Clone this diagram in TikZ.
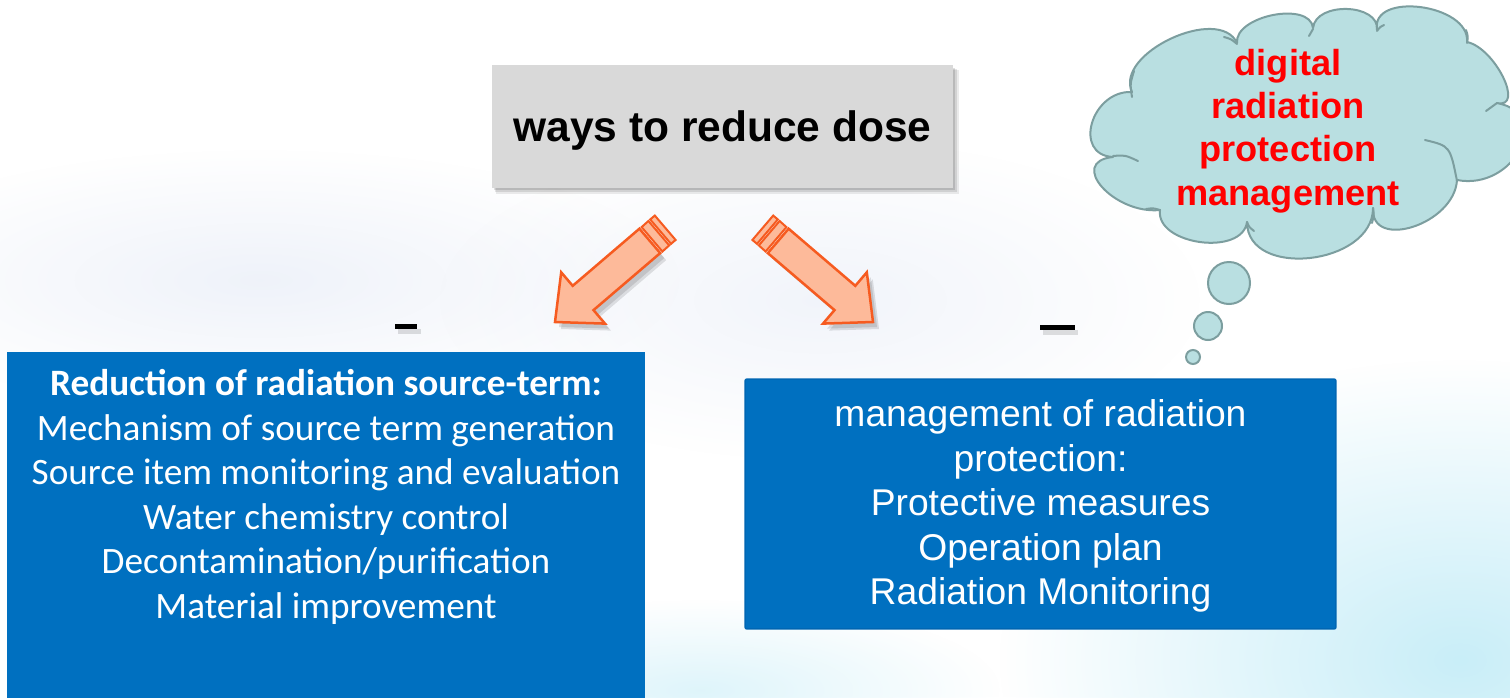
\documentclass[tikz,border=0pt]{standalone}
\usepackage{fontspec}
\setmainfont{Liberation Sans}
\newfontfamily\calibrifont{Carlito}
\usetikzlibrary{fadings}

\definecolor{boxblue}{HTML}{0070C0}
\definecolor{boxedge}{HTML}{0066B3}
\definecolor{dosegray}{HTML}{D9D9D9}
\definecolor{arrowfill}{HTML}{FDBA9A}
\definecolor{arrowline}{HTML}{F65B20}
\definecolor{cloudfill}{HTML}{B9DFE1}
\definecolor{cloudline}{HTML}{7C9E9F}
\definecolor{tintcyan}{HTML}{C9EEF8}
\definecolor{tintblue}{HTML}{E4EAF6}

\tikzfading[name=softspot, inner color=transparent!0, outer color=transparent!100]

\tikzset{
  dosebox/.style={rectangle, fill=dosegray, minimum width=9.22cm, minimum height=2.46cm, inner sep=0pt},
  dosetext/.style={inner sep=0pt, font=\bfseries\fontsize{24.2pt}{28pt}\selectfont},
  bluebox/.style={rectangle, fill=boxblue, inner sep=0pt},
  srctext/.style={align=center, text=white, inner sep=0pt,
    font=\calibrifont\fontsize{21.2pt}{25.3pt}\selectfont},
  mgmtstyle/.style={bluebox, draw=boxedge, line width=0.03cm, rounded corners=0.04cm,
    minimum width=11.82cm, minimum height=5cm},
  mgmttext/.style={align=center, text=white, inner sep=0pt,
    font=\fontsize{21.2pt}{25.3pt}\selectfont},
  cloudoutline/.style={draw=cloudline, fill=cloudfill, line width=0.04cm, line join=round},
  cloudinner/.style={draw=cloudline, line width=0.04cm, line cap=round},
  thoughttext/.style={align=center, text=red, inner sep=0pt,
    font=\bfseries\fontsize{20.6pt}{24.7pt}\selectfont},
  bubble/.style={circle, draw=cloudline, fill=cloudfill, line width=0.04cm, inner sep=0pt},
  tinymark/.style={rectangle, fill=black, inner sep=0pt, minimum height=0.1cm},
  arrowshape/.style={fill=arrowfill, draw=arrowline, line width=0.05cm, line join=miter},
  stripeshape/.style={arrowshape, line width=0.04cm},
  arrowshadow/.style={fill=black, opacity=0.11}
}

\begin{document}
\begin{tikzpicture}[x=0.02cm, y=-0.02cm]
\useasboundingbox (0,0) rectangle (1510,697);
\begin{scope}
\clip (0,0) rectangle (1510,697);
\fill[white] (0,0) rectangle (1510,697);

% faint background tint
\fill[tintblue, path fading=softspot, opacity=0.6] (260,280) ellipse (420 and 130);
\fill[tintblue, path fading=softspot, opacity=0.5] (820,300) ellipse (380 and 160);
\fill[tintcyan, path fading=softspot] (1460,660) ellipse (460 and 300);
\fill[tintcyan, path fading=softspot, opacity=0.6] (700,690) ellipse (300 and 90);

% title box with its shadow
\fill[black, opacity=0.08] (496,70) rectangle (959,194);
\fill[black, opacity=0.10] (495,69) rectangle (957,192);
\fill[black, opacity=0.12] (494,68) rectangle (955,190);
\node[dosebox] (dose) at (722.5,126.5) {};
\node[dosetext, anchor=base] (dosewords) at (722.5,141) {ways to reduce dose};

% left block arrow: soft shadow, body, tail stripes
\foreach \dx/\dy in {6/7, 4/5} {
  \fill[arrowshadow, shift={(\dx,\dy)}] (555,322) -- (561.2,272.3) -- (572.7,285.8) -- (639.4,228.7)
    -- (660.2,253.1) -- (593.5,310.1) -- (605.0,323.6) -- cycle;
}
\filldraw[arrowshape] (555,322) -- (561.2,272.3) -- (572.7,285.8) -- (639.4,228.7)
  -- (660.2,253.1) -- (593.5,310.1) -- (605.0,323.6) -- cycle;
\filldraw[stripeshape] (662.4,251.5) -- (641.6,227.1) -- (648.4,221.0) -- (669.2,245.4) -- cycle;
\filldraw[stripeshape] (671.0,243.85) -- (650.2,219.45) -- (654.8,215.55) -- (675.6,239.95) -- cycle;

% right block arrow: soft shadow, body, tail stripes
\foreach \dx/\dy in {6/7, 4/5} {
  \fill[arrowshadow, shift={(\dx,\dy)}] (873,322) -- (866.8,272.3) -- (855.3,285.8) -- (788.6,228.7)
    -- (767.8,253.1) -- (834.5,310.1) -- (823.0,323.6) -- cycle;
}
\filldraw[arrowshape] (873,322) -- (866.8,272.3) -- (855.3,285.8) -- (788.6,228.7)
  -- (767.8,253.1) -- (834.5,310.1) -- (823.0,323.6) -- cycle;
\filldraw[stripeshape] (765.6,251.5) -- (786.4,227.1) -- (779.6,221.0) -- (758.8,245.4) -- cycle;
\filldraw[stripeshape] (757.0,243.85) -- (777.8,219.45) -- (773.2,215.55) -- (752.4,239.95) -- cycle;

% small labels beneath the arrows
\fill[black, opacity=0.12] (398,329) rectangle (421,334);
\node[tinymark, minimum width=0.44cm] (markL) at (406,326) {};
\fill[black, opacity=0.12] (1043,330) rectangle (1078,335);
\node[tinymark, minimum width=0.7cm] (markR) at (1057,327) {};

% source-term box
\node[bluebox, anchor=north west, minimum width=12.76cm, minimum height=7.4cm] (src) at (7,352) {};
\node[srctext] (srclines) at (326,497) {{\bfseries Reduction of radiation source-term:}\\
  Mechanism of source term generation\\
  Source item monitoring and evaluation\\
  Water chemistry control\\
  Decontamination/purification\\
  Material improvement};

% management box
\node[mgmtstyle] (mgmt) at (1040.5,504) {};
\node[mgmttext] (mgmtlines) at (1040.5,506) {management of radiation\\ protection:\\
  Protective measures\\ Operation plan\\ Radiation Monitoring};

% thought cloud, built from puffs
\path[cloudoutline] (1113,157)
  .. controls (1072.3,155) and (1091.3,90) .. (1132,92)
  .. controls (1114,53.4) and (1219,4.4) .. (1237,43)
  .. controls (1234.3,15.7) and (1310.3,0.7) .. (1313,28)
  .. controls (1315.7,1.3) and (1379.7,3.3) .. (1377,30)
  .. controls (1370.3,-9) and (1470.3,4) .. (1467,42)
  .. controls (1495,48) and (1525,109) .. (1497,103)
  .. controls (1554,114) and (1514,191) .. (1457,180)
  .. controls (1454.3,224.7) and (1370.3,250.7) .. (1373,208)
  .. controls (1373,265.3) and (1247,279.3) .. (1247,222)
  .. controls (1242.3,256.7) and (1155.3,244.7) .. (1160,210)
  .. controls (1114,214.7) and (1067,161.7) .. (1113,157)
  -- cycle;
% inner arcs of the cloud
\draw[cloudinner] (1113,156) .. controls (1125,155) .. (1138,161);
\draw[cloudinner] (1132,97) .. controls (1130,84) .. (1134,71);
\draw[cloudinner] (1237,44) .. controls (1231,39) .. (1224,37);
\draw[cloudinner] (1313,29) .. controls (1311,33) .. (1309,36);
\draw[cloudinner] (1377,31) .. controls (1380,27) .. (1384,25);
\draw[cloudinner] (1467,43) .. controls (1468,36) .. (1466,30);
\draw[cloudinner] (1497,103) .. controls (1492,107) .. (1486,111);
\draw[cloudinner] (1425,140) .. controls (1450,146) .. (1457,181);
\draw[cloudinner] (1373,208) .. controls (1374,215) .. (1372,223);
\draw[cloudinner] (1247,222) .. controls (1249,227) .. (1254,231);
\draw[cloudinner] (1160,210) .. controls (1153,208) .. (1146,209);
\node[thoughttext] (thoughtlines) at (1288,131) {digital\\ radiation\\ protection\\ management};
\node[bubble, minimum size=0.84cm] (bubbleA) at (1229,283) {};
\node[bubble, minimum size=0.56cm] (bubbleB) at (1208,326) {};
\node[bubble, minimum size=0.28cm] (bubbleC) at (1193,357) {};
\end{scope}
\end{tikzpicture}
\end{document}
